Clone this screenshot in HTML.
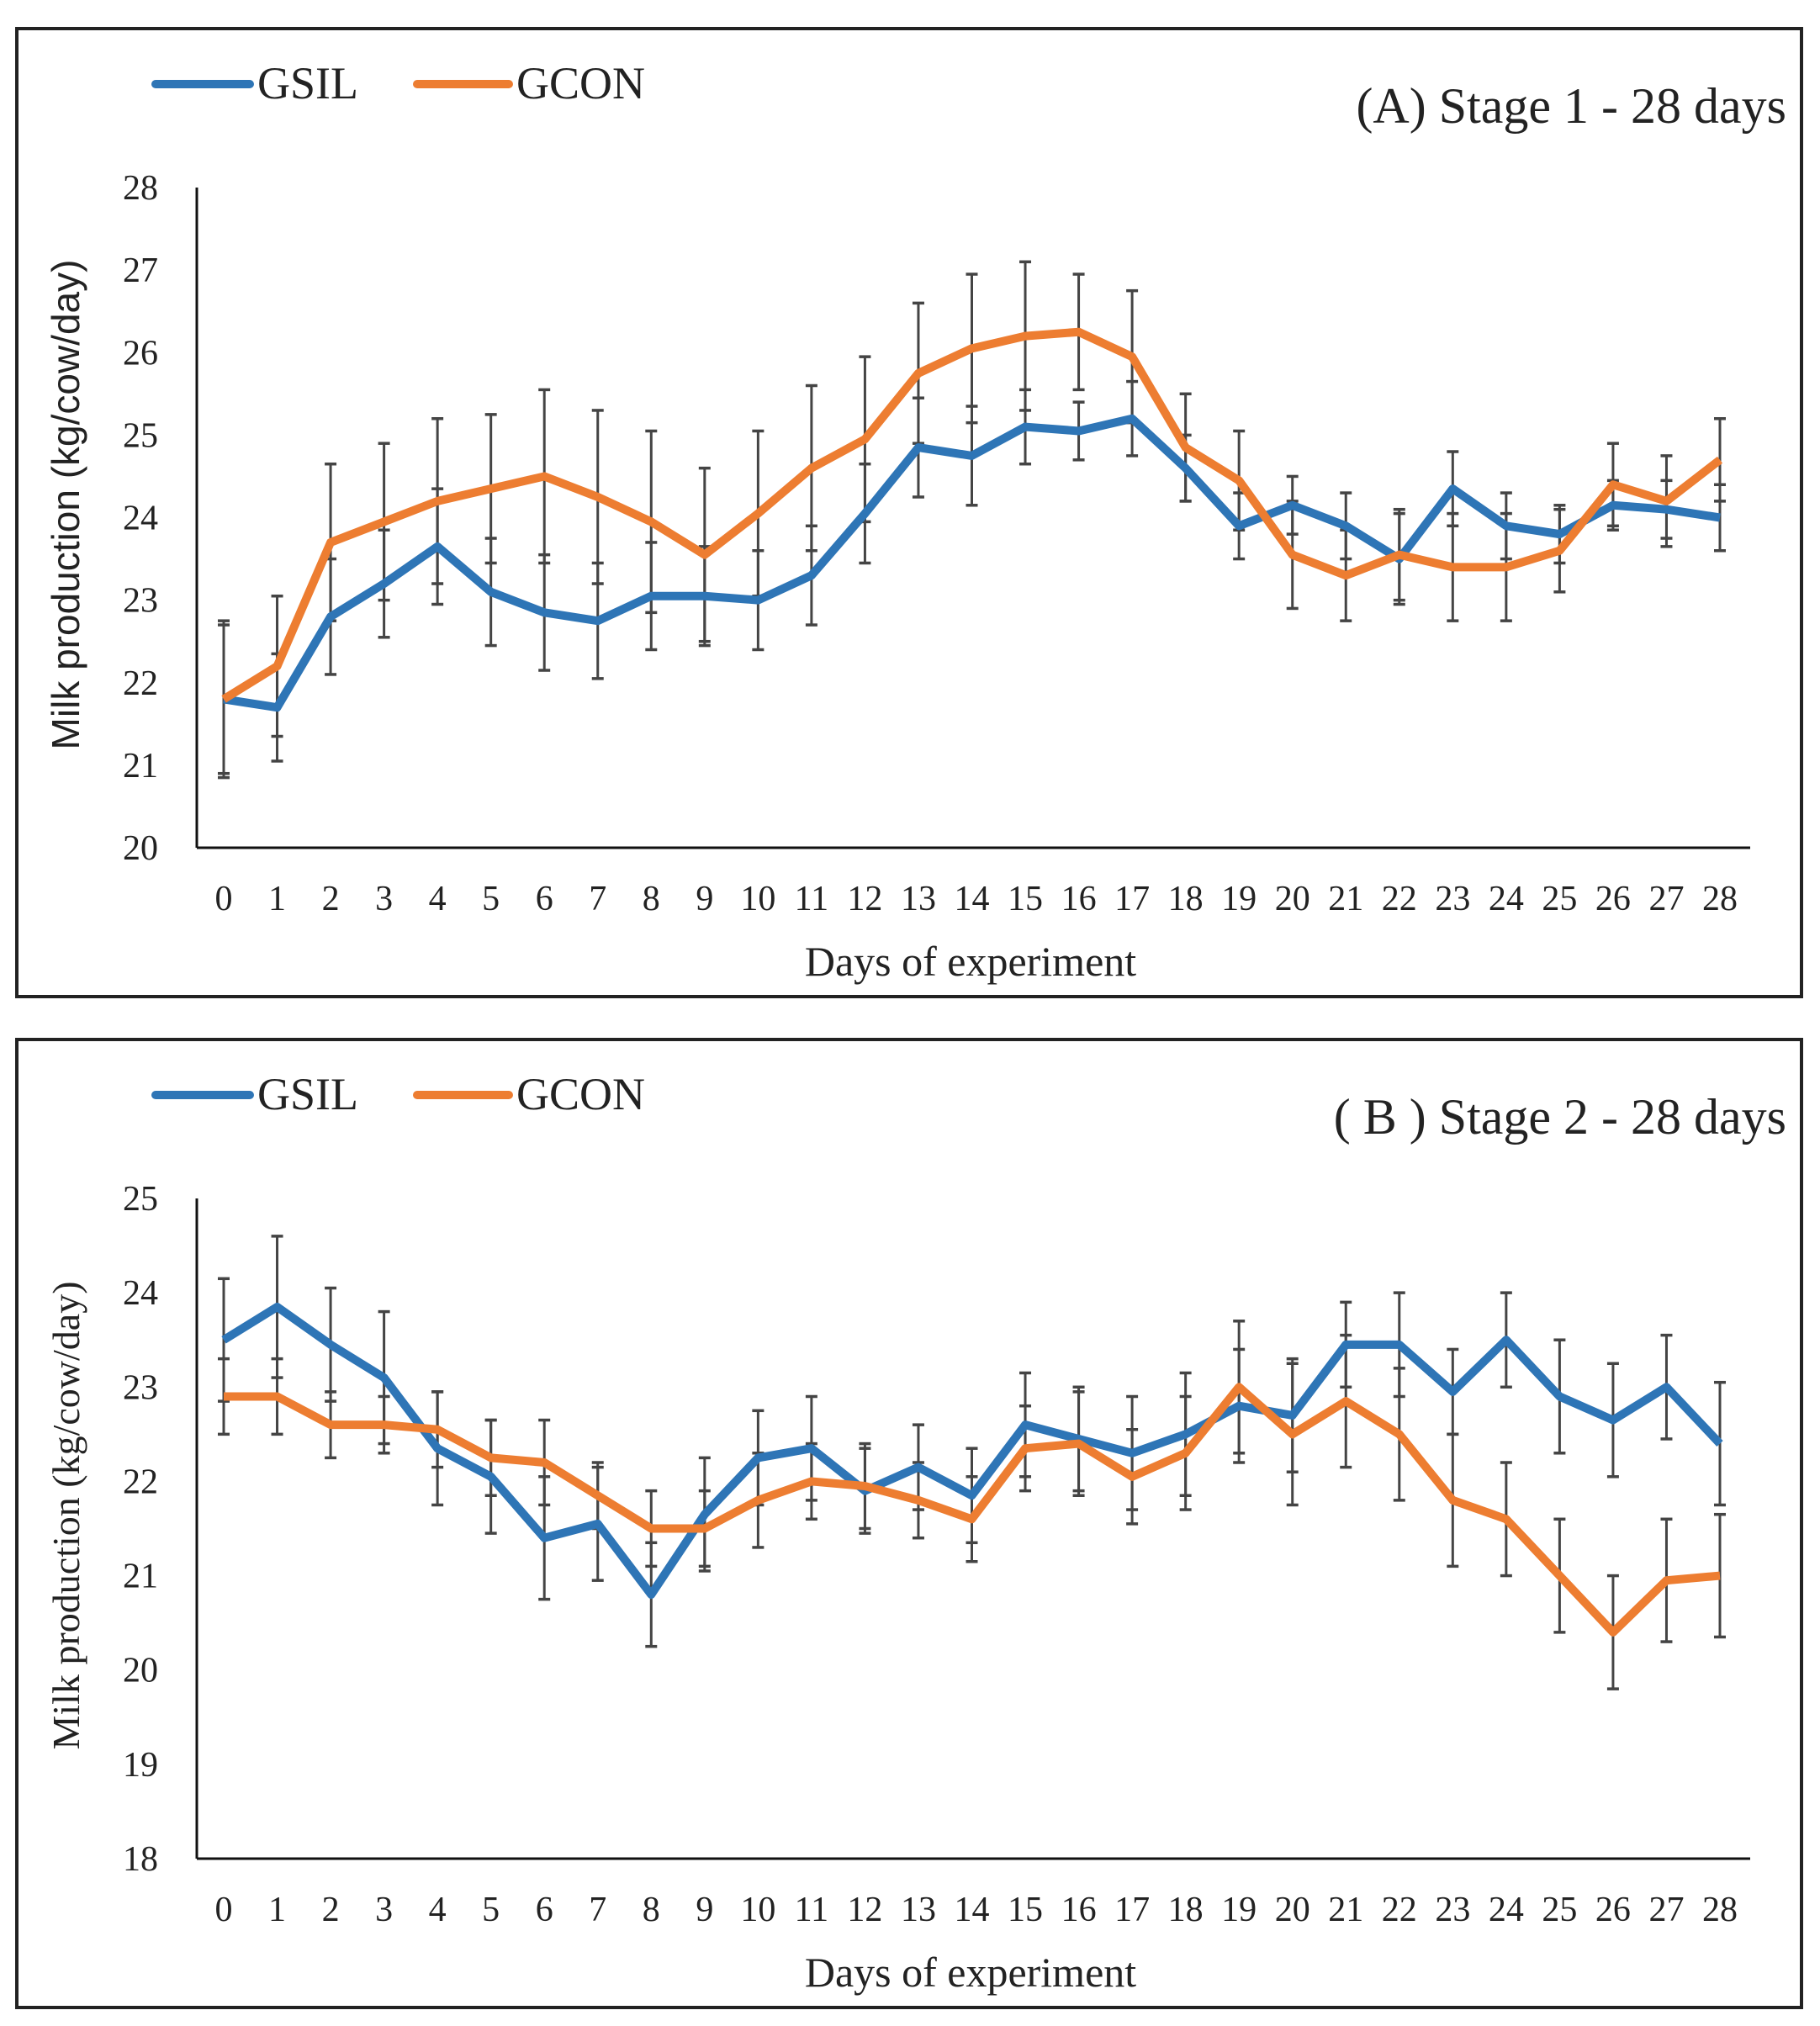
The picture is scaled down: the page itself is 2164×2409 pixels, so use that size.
<!DOCTYPE html>
<html><head><meta charset="utf-8">
<style>
html,body{margin:0;padding:0;background:#fff;}
svg{display:block;font-family:"Liberation Serif",serif;}
</style></head>
<body>
<svg id="fig" width="2164" height="2409" viewBox="0 0 2164 2409"></svg>
<script>
const days = [0,1,2,3,4,5,6,7,8,9,10,11,12,13,14,15,16,17,18,19,20,21,22,23,24,25,26,27,28];
const aGsil = [21.8,21.7,22.8,23.2,23.65,23.1,22.85,22.75,23.05,23.05,23.0,23.3,24.05,24.85,24.75,25.1,25.05,25.2,24.6,23.9,24.15,23.9,23.5,24.35,23.9,23.8,24.15,24.1,24.0];
const aGsilErr = [0.9,0.65,0.7,0.65,0.7,0.65,0.7,0.7,0.65,0.6,0.6,0.6,0.6,0.6,0.6,0.45,0.35,0.45,0.4,0.4,0.35,0.4,0.55,0.45,0.4,0.35,0.3,0.35,0.4];
const aGcon = [21.8,22.2,23.7,23.95,24.2,24.35,24.5,24.25,23.95,23.55,24.05,24.6,24.95,25.75,26.05,26.2,26.25,25.95,24.85,24.45,23.55,23.3,23.55,23.4,23.4,23.6,24.4,24.2,24.7];
const aGconErr = [0.95,0.85,0.95,0.95,1.0,0.9,1.05,1.05,1.1,1.05,1.0,1.0,1.0,0.85,0.9,0.9,0.7,0.8,0.65,0.6,0.65,0.55,0.55,0.65,0.65,0.5,0.5,0.55,0.5];
const bGsil = [23.5,23.85,23.45,23.1,22.35,22.05,21.4,21.55,20.8,21.65,22.25,22.35,21.9,22.15,21.85,22.6,22.45,22.3,22.5,22.8,22.7,23.45,23.45,22.95,23.5,22.9,22.65,23.0,22.4];
const bGsilErr = [0.65,0.75,0.6,0.7,0.6,0.6,0.65,0.6,0.55,0.6,0.5,0.55,0.45,0.45,0.5,0.55,0.55,0.6,0.65,0.6,0.6,0.45,0.55,0.45,0.5,0.6,0.6,0.55,0.65];
const bGcon = [22.9,22.9,22.6,22.6,22.55,22.25,22.2,21.85,21.5,21.5,21.8,22.0,21.95,21.8,21.6,22.35,22.4,22.05,22.3,23.0,22.5,22.85,22.5,21.8,21.6,21.0,20.4,20.95,21.0];
const bGconErr = [0.4,0.4,0.35,0.3,0.4,0.4,0.45,0.35,0.4,0.4,0.5,0.4,0.45,0.4,0.45,0.45,0.55,0.5,0.6,0.7,0.75,0.7,0.7,0.7,0.6,0.6,0.6,0.65,0.65];
const aTicks = [20,21,22,23,24,25,26,27,28];
const bTicks = [18,19,20,21,22,23,24,25];

const NS = "http://www.w3.org/2000/svg";
const svg = document.getElementById('fig');
function mk(tag, attrs, parent){
  const e = document.createElementNS(NS, tag);
  for (const k in attrs) e.setAttribute(k, attrs[k]);
  (parent||svg).appendChild(e);
  return e;
}
const BLUE = "#2E75B6", ORANGE = "#ED7D31";

function panel(oy, key, title, ticks, gsil, gsilErr, gcon, gconErr){
  const g = mk('g', {});
  
  
  const fr = mk('rect', {x:20, y:oy+34, width:2122, height:1151, fill:'none', stroke:'#222', 'stroke-width':4}, g);
  
  
  const x0 = 234, x1 = 2081, yTop = oy + 223, yBot = oy + 1008;
  const ymin = ticks[0], ymax = ticks[ticks.length-1];
  const X = d => 266 + (2045-266) * (d - days[0]) / (days[days.length-1] - days[0]);
  const Y = v => yBot - (v - ymin) / (ymax - ymin) * (yBot - yTop);
  const ya = mk('line', {x1:x0, y1:yTop, x2:x0, y2:yBot, stroke:'#111', 'stroke-width':3}, g);
  
  
  const xa = mk('line', {x1:x0, y1:yBot, x2:x1, y2:yBot, stroke:'#111', 'stroke-width':3}, g);
  
  
  ticks.forEach(t => {
    const tx = mk('text', {x:188, y:Y(t)+14, 'font-size':42, 'text-anchor':'end', fill:'#222'}, g);
    tx.textContent = t;
    
    
  });
  days.forEach(d => {
    const tx = mk('text', {x:X(d), y:oy+1082, 'font-size':42, 'text-anchor':'middle', fill:'#222'}, g);
    tx.textContent = d;
    
    
  });
  const xt = mk('text', {x:1154, y:oy+1160, 'font-size':50, 'text-anchor':'middle', fill:'#222'}, g);
  xt.textContent = 'Days of experiment';
  
  
  const yt = mk('text', {x:0, y:0, 'font-size':46, 'text-anchor':'middle', fill:'#222',
    transform:'translate(94,' + (oy+600) + ') rotate(-90)',
    'font-family': key==='a' ? '"Liberation Sans",sans-serif' : '"Liberation Serif",serif'}, g);
  yt.textContent = 'Milk production (kg/cow/day)';
  
  
  function errs(vals, errArr, name){
    vals.forEach((v, i) => {
      const x = X(days[i]);
      const e1 = mk('line', {x1:x, y1:Y(v+errArr[i]), x2:x, y2:Y(v-errArr[i]), stroke:'#444', 'stroke-width':3}, g);
      
      
      [v+errArr[i], v-errArr[i]].forEach(c => {
        const cap = mk('line', {x1:x-7, y1:Y(c), x2:x+7, y2:Y(c), stroke:'#444', 'stroke-width':3.5}, g);
        
        
      });
    });
  }
  errs(gcon, gconErr, 'gcon');
  errs(gsil, gsilErr, 'gsil');
  function line(vals, color, name){
    const p = mk('polyline', {points: vals.map((v,i)=>X(days[i])+','+Y(v)).join(' '), fill:'none', stroke:color, 'stroke-width':10, 'stroke-linejoin':'round'}, g);
    
    
  }
  line(gsil, BLUE, 'gsil');
  line(gcon, ORANGE, 'gcon');
  const l1 = mk('line', {x1:185, y1:oy+100, x2:297, y2:oy+100, stroke:BLUE, 'stroke-width':10, 'stroke-linecap':'round'}, g);
  
  
  const t1 = mk('text', {x:306, y:oy+117, 'font-size':54, fill:'#222'}, g);
  t1.textContent = 'GSIL';
  
  
  const l2 = mk('line', {x1:496, y1:oy+100, x2:605, y2:oy+100, stroke:ORANGE, 'stroke-width':10, 'stroke-linecap':'round'}, g);
  
  
  const t2 = mk('text', {x:614, y:oy+117, 'font-size':54, fill:'#222'}, g);
  t2.textContent = 'GCON';
  
  
  const tt = mk('text', {x:2124, y:oy+146, 'font-size':60, 'text-anchor':'end', fill:'#222'}, g);
  tt.textContent = title;
  
  
}
panel(0, 'a', '(A) Stage 1 - 28 days', aTicks, aGsil, aGsilErr, aGcon, aGconErr);
panel(1202, 'b', '( B ) Stage 2 - 28 days', bTicks, bGsil, bGsilErr, bGcon, bGconErr);
</script>
</body></html>
